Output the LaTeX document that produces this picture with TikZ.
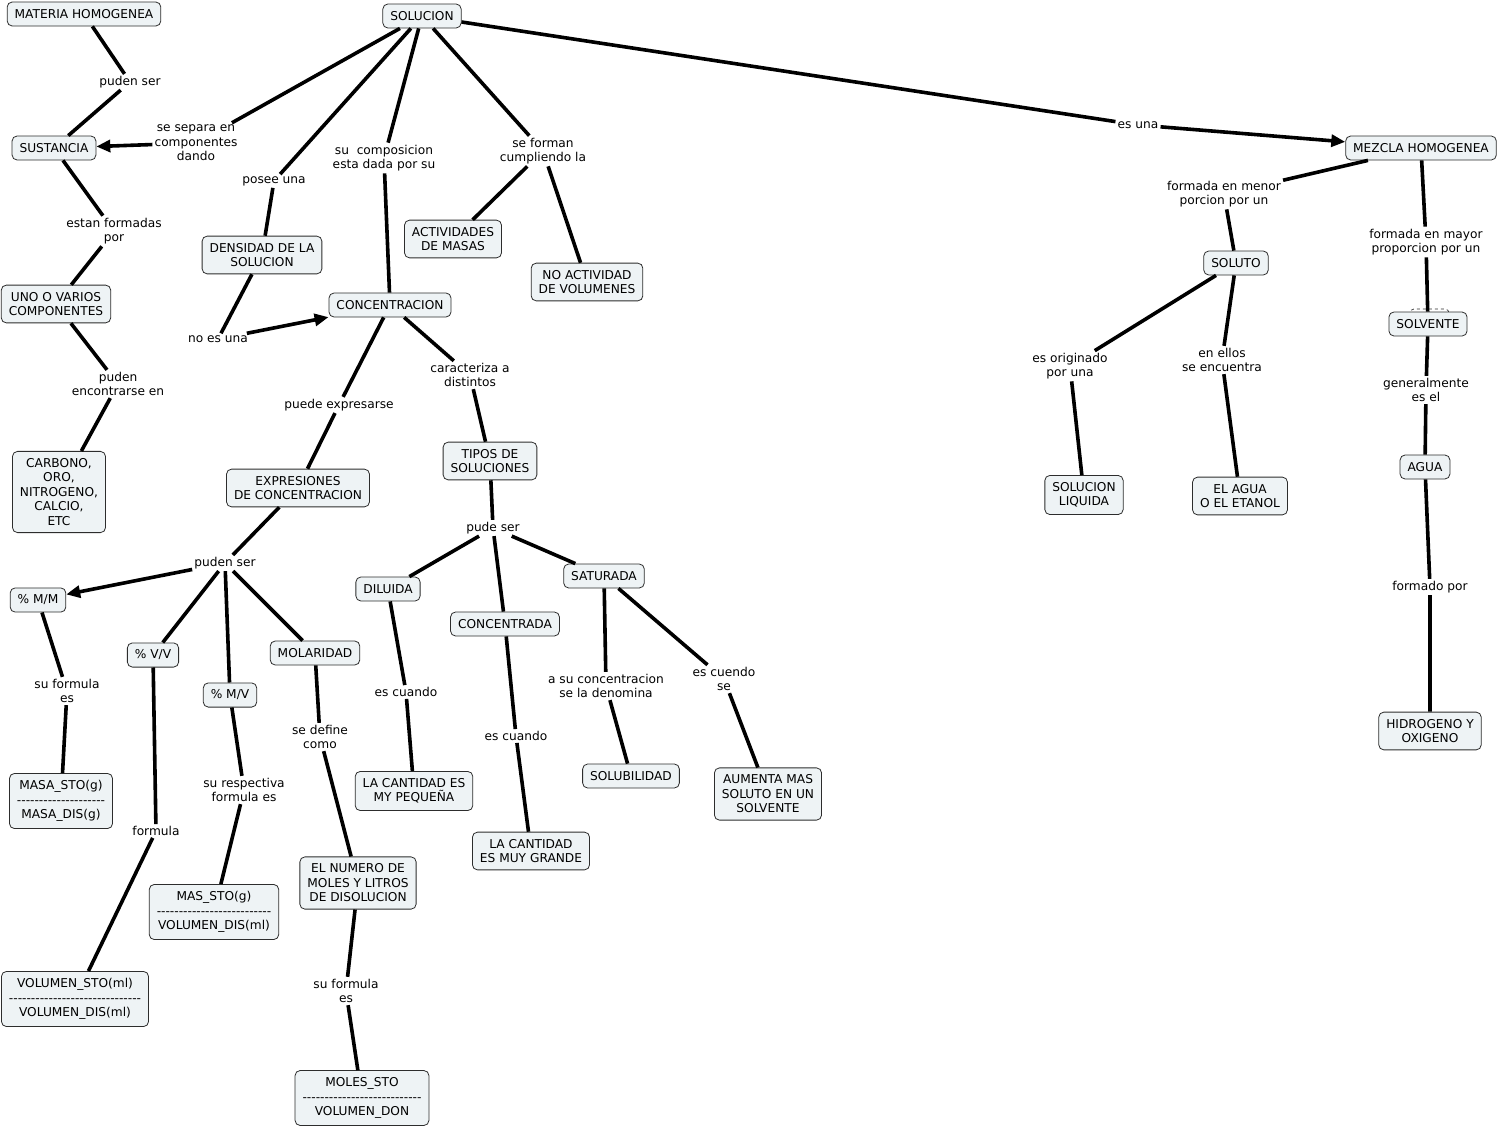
\documentclass[tikz,border=0pt]{standalone}
\usepackage{fontspec}
\setmainfont{DejaVu Sans}[Ligatures=TeXOff]
\usepackage{xcolor}
\usepackage{tikz}
\usetikzlibrary{arrows.meta}
\usetikzlibrary{shapes.geometric, calc}
\definecolor{cajafondo}{RGB}{238,243,245}
\definecolor{cajaborde}{RGB}{45,45,45}

\begin{document}
\begin{tikzpicture}[x=1pt,y=-1pt,
    concepto/.style={draw=cajaborde, fill=cajafondo, rounded corners=5pt, line width=0.8pt,
        align=center, inner xsep=7.5pt, inner ysep=7pt, minimum height=24pt,
        font=\fontsize{12.2}{14.5}\selectfont},
    enlace/.style={align=center, inner sep=2pt, font=\fontsize{12.2}{14.5}\selectfont},
    linea/.style={line width=3.6pt},
    flecha/.style={line width=3.6pt, -{Triangle[length=14pt,width=12pt]}}]
                \useasboundingbox (0,0) rectangle (1497,1127);
                % marca punteada tras SOLVENTE
                \draw[dashed, cajaborde, line width=0.7pt, rounded corners=4pt] (1410,322) -- (1410,309) -- (1449,309) -- (1449,322);
                % Conceptos
                \node[concepto] (materia) at (84,14) {MATERIA HOMOGENEA};
                \node[concepto] (solucion) at (422,16) {SOLUCION};
                \node[concepto] (sustancia) at (54,148) {SUSTANCIA};
                \node[concepto] (densidad) at (262,255) {DENSIDAD DE LA\\SOLUCION};
                \node[concepto] (componentes) at (56,304) {UNO O VARIOS\\COMPONENTES};
                \node[concepto] (concentracion) at (390,305) {CONCENTRACION};
                \node[concepto] (actividades) at (453,239) {ACTIVIDADES\\DE MASAS};
                \node[concepto] (noactividad) at (587,282) {NO ACTIVIDAD\\DE VOLUMENES};
                \node[concepto] (mezcla) at (1421,148) {MEZCLA HOMOGENEA};
                \node[concepto] (soluto) at (1236,263) {SOLUTO};
                \node[concepto] (solvente) at (1428,324) {SOLVENTE};
                \node[concepto] (agua) at (1425,467) {AGUA};
                \node[concepto] (liquida) at (1084,495) {SOLUCION\\LIQUIDA};
                \node[concepto] (etanol) at (1240,496) {EL AGUA\\O EL ETANOL};
                \node[concepto] (hidrogeno) at (1430,731) {HIDROGENO Y\\OXIGENO};
                \node[concepto] (carbono) at (59,492) {CARBONO,\\ORO,\\NITROGENO,\\CALCIO,\\ETC};
                \node[concepto] (expresiones) at (298,488) {EXPRESIONES\\DE CONCENTRACION};
                \node[concepto] (tipos) at (490,461) {TIPOS DE\\SOLUCIONES};
                \node[concepto] (mm) at (38,600) {\% M/M};
                \node[concepto] (vv) at (153,655) {\% V/V};
                \node[concepto] (mv) at (230,695) {\% M/V};
                \node[concepto] (molaridad) at (315,653) {MOLARIDAD};
                \node[concepto] (diluida) at (388,589) {DILUIDA};
                \node[concepto] (concentrada) at (505,624) {CONCENTRADA};
                \node[concepto] (saturada) at (604,576) {SATURADA};
                \node[concepto] (pequena) at (414,791) {LA CANTIDAD ES\\MY PEQUEÑA};
                \node[concepto] (grande) at (531,851) {LA CANTIDAD\\ES MUY GRANDE};
                \node[concepto] (solubilidad) at (631,776) {SOLUBILIDAD};
                \node[concepto] (aumenta) at (768,794) {AUMENTA MAS\\SOLUTO EN UN\\SOLVENTE};
                \node[concepto] (numero) at (358,883) {EL NUMERO DE\\MOLES Y LITROS\\DE DISOLUCION};
                \node[concepto] (formulamm) at (61,801) {MASA\_STO(g)\\--------------------\\MASA\_DIS(g)};
                \node[concepto] (formulamv) at (214,912) {MAS\_STO(g)\\--------------------------\\VOLUMEN\_DIS(ml)};
                \node[concepto] (formulavv) at (75,999) {VOLUMEN\_STO(ml)\\------------------------------\\VOLUMEN\_DIS(ml)};
                \node[concepto] (formulamol) at (362,1098) {MOLES\_STO\\---------------------------\\VOLUMEN\_DON};
                % Enlaces
                \node[enlace] (pudenser) at (130,82) {puden ser};
                \node[enlace] (separa) at (196,143) {se separa en\\componentes\\dando};
                \node[enlace] (posee) at (274,181) {posee una};
                \node[enlace] (composicion) at (384,158) {su\ \ composicion\\esta dada por su};
                \node[enlace] (forman) at (543,151) {se forman\\cumpliendo la};
                \node[enlace] (esuna) at (1138,125) {es una};
                \node[enlace] (formadas) at (114,231) {estan formadas\\por};
                \node[enlace] (noes) at (218,339) {no es una};
                \node[enlace] (menor) at (1224,194) {formada en menor\\porcion por un};
                \node[enlace] (mayor) at (1426,242) {formada en mayor\\proporcion por un};
                \node[enlace] (encontrarse) at (118,384) {puden\\encontrarse en};
                \node[enlace] (expresarse) at (339,405) {puede expresarse};
                \node[enlace] (caracteriza) at (470,375) {caracteriza a\\distintos};
                \node[enlace] (originado) at (1070,366) {es originado\\por una};
                \node[enlace] (ellos) at (1222,360) {en ellos\\se encuentra};
                \node[enlace] (generalmente) at (1426,390) {generalmente\\es el};
                \node[enlace] (pudenser2) at (225,563) {puden ser};
                \node[enlace] (pudeser) at (493,528) {pude ser};
                \node[enlace] (formado) at (1430,587) {formado por};
                \node[enlace] (suformula) at (67,691) {su formula\\es};
                \node[enlace] (escuando) at (406,692) {es cuando};
                \node[enlace] (escuando2) at (516,736) {es cuando};
                \node[enlace] (denomina) at (606,686) {a su concentracion\\se la denomina};
                \node[enlace] (escuendo) at (724,679) {es cuendo\\se};
                \node[enlace] (define) at (320,737) {se define\\como};
                \node[enlace] (respectiva) at (244,790) {su respectiva\\formula es};
                \node[enlace] (formula) at (156,831) {formula};
                \node[enlace] (suformula2) at (346,991) {su formula\\es};
                % Lineas
                \draw[linea] (materia) -- (pudenser) -- (sustancia);
                \draw[linea] (solucion) -- (separa);
                \draw[flecha] (separa) -- (sustancia);
                \draw[linea] (solucion) -- (posee) -- (densidad);
                \draw[linea] (solucion) -- (composicion) -- (concentracion);
                \draw[linea] (solucion) -- (forman) -- (actividades);
                \draw[linea] (forman) -- (noactividad);
                \draw[linea] (solucion) -- (esuna);
                \draw[flecha] (esuna) -- (mezcla);
                \draw[linea] (sustancia) -- (formadas) -- (componentes);
                \draw[linea] (componentes) -- (encontrarse) -- (carbono);
                \draw[linea] (densidad) -- (noes);
                \draw[flecha] (noes) -- (concentracion);
                \draw[linea] (concentracion) -- (expresarse) -- (expresiones);
                \draw[linea] (concentracion) -- (caracteriza) -- (tipos);
                \draw[linea] (expresiones) -- (pudenser2);
                \draw[flecha] (pudenser2) -- (mm);
                \draw[linea] (pudenser2) -- (vv);
                \draw[linea] (pudenser2) -- (mv);
                \draw[linea] (pudenser2) -- (molaridad);
                \draw[linea] (mm) -- (suformula) -- (formulamm);
                \draw[linea] (vv) -- (formula) -- (formulavv);
                \draw[linea] (mv) -- (respectiva) -- (formulamv);
                \draw[linea] (molaridad) -- (define) -- (numero);
                \draw[linea] (numero) -- (suformula2) -- (formulamol);
                \draw[linea] (tipos) -- (pudeser);
                \draw[linea] (pudeser) -- (diluida);
                \draw[linea] (pudeser) -- (concentrada);
                \draw[linea] (pudeser) -- (saturada);
                \draw[linea] (diluida) -- (escuando) -- (pequena);
                \draw[linea] (concentrada) -- (escuando2) -- (grande);
                \draw[linea] (saturada) -- (denomina) -- (solubilidad);
                \draw[linea] (saturada) -- (escuendo) -- (aumenta);
                \draw[linea] (mezcla) -- (menor) -- (soluto);
                \draw[linea] (mezcla) -- (mayor) -- (solvente);
                \draw[linea] (soluto) -- (originado) -- (liquida);
                \draw[linea] (soluto) -- (ellos) -- (etanol);
                \draw[linea] (solvente) -- (generalmente) -- (agua);
                \draw[linea] (agua) -- (formado) -- (hidrogeno);
            \end{tikzpicture}
\end{document}
